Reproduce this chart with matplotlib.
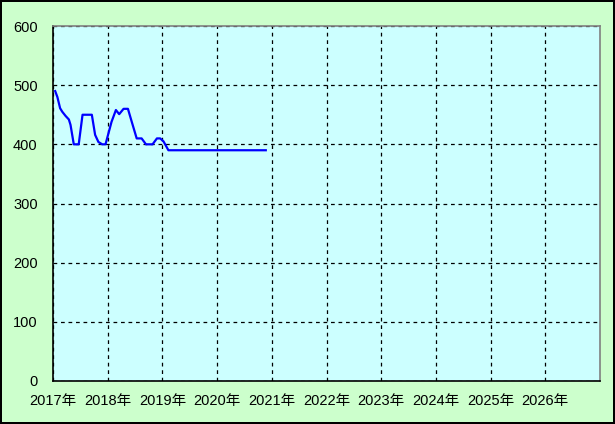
import matplotlib
matplotlib.use("Agg")
import matplotlib.pyplot as plt

plt.rcParams['font.family'] = ['Liberation Sans', 'Noto Sans CJK JP', 'DejaVu Sans']

# points (decimal year, value)
years = [2017.04, 2017.08, 2017.13, 2017.17, 2017.23, 2017.29, 2017.32, 2017.38,
         2017.47, 2017.54, 2017.71, 2017.77, 2017.83, 2017.90, 2017.96,
         2018.07, 2018.15, 2018.21, 2018.29, 2018.37, 2018.44, 2018.53, 2018.62,
         2018.70, 2018.82, 2018.90, 2018.96, 2019.02, 2019.11, 2020.89]
values = [490, 480, 461, 455, 448, 442, 433, 400,
          400, 450, 450, 416, 404, 400, 400,
          438, 458, 451, 460, 460, 438, 410, 410,
          400, 400, 410, 410, 405, 390, 390]

year_ticks = list(range(2017, 2027))
year_labels = [f"{y}年" for y in year_ticks]
y_ticks = [0, 100, 200, 300, 400, 500, 600]

fig = plt.figure(figsize=(6.15, 4.24), dpi=100, facecolor='#CCFFCC',
                 edgecolor='black', linewidth=1.5)
ax = fig.add_axes([53 / 615, 1 - 381 / 424, 547 / 615, 355 / 424])
ax.set_facecolor('#CCFFFF')

ax.plot(years, values, color='#0000FF', lw=1.6, zorder=3)

ax.set_xlim(2017, 2027)
ax.set_ylim(0, 600)
ax.set_xticks(year_ticks)
ax.set_xticklabels(year_labels)
ax.set_yticks(y_ticks)
ax.tick_params(length=0, labelsize=10.5, colors='black')
ax.tick_params(axis='x', pad=9)
ax.tick_params(axis='y', pad=11)

ax.grid(True, color='black', linestyle=(0, (3, 3)), linewidth=0.9)
ax.spines['left'].set_color('black')
ax.spines['bottom'].set_color('black')
ax.spines['top'].set_color('#808080')
ax.spines['right'].set_color('#808080')
for s in ax.spines.values():
    s.set_linewidth(1.2)

fig.savefig('out.png', dpi=100, facecolor=fig.get_facecolor(),
            edgecolor=fig.get_edgecolor())
